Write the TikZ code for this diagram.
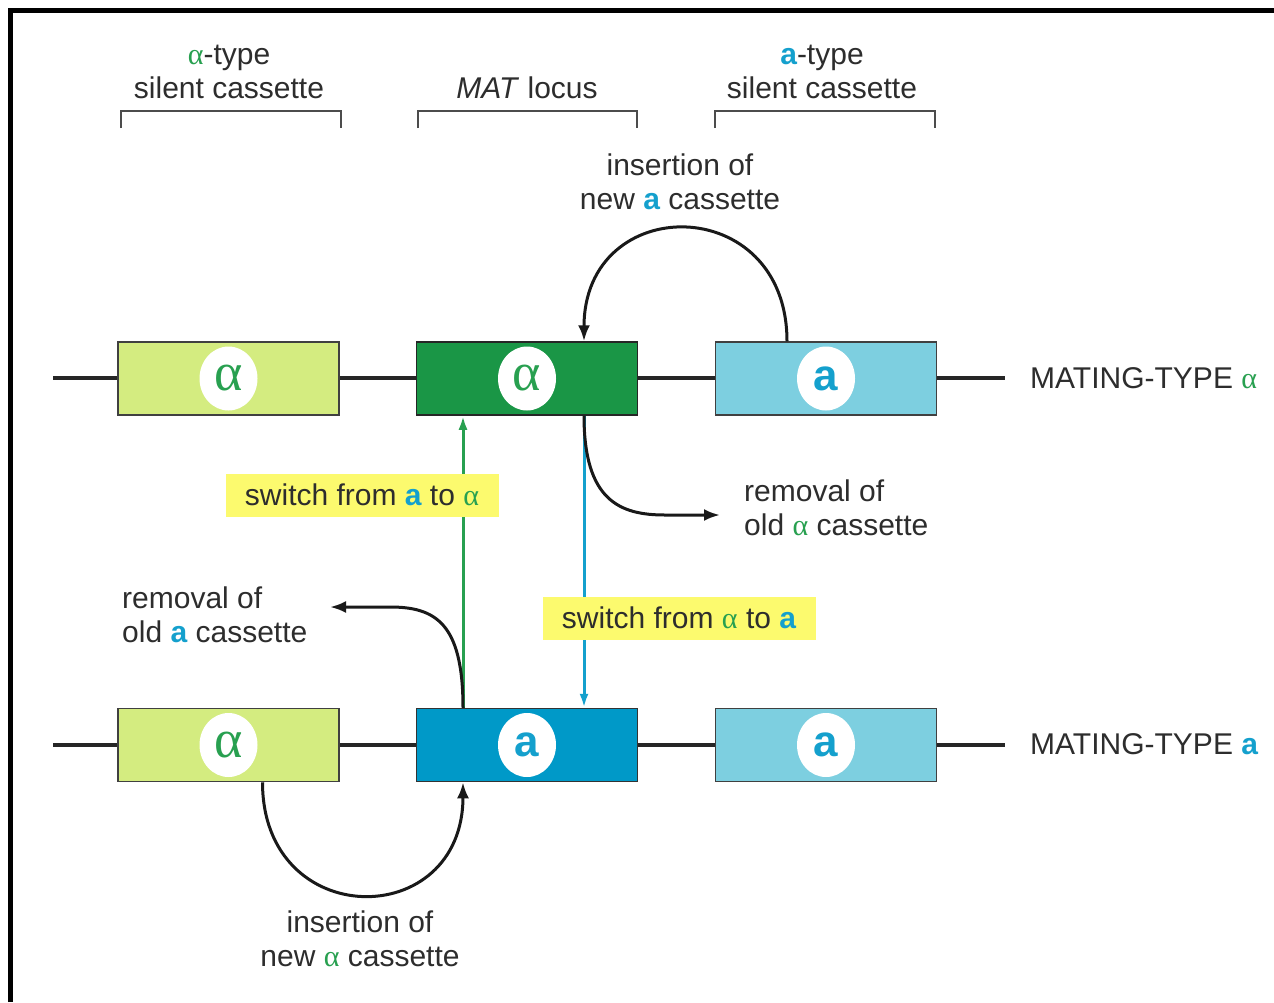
\documentclass[tikz,border=0pt]{standalone}
\usepackage{fontspec}
\setmainfont{Liberation Sans}
\newfontfamily\grk{Liberation Serif}
\usetikzlibrary{arrows.meta,shapes.geometric}
\definecolor{lgreen}{RGB}{212,236,128}
\definecolor{dgreen}{RGB}{26,150,70}
\definecolor{lblue}{RGB}{125,207,224}
\definecolor{dblue}{RGB}{0,153,200}
\definecolor{agreen}{RGB}{40,160,80}
\definecolor{ablue}{RGB}{20,160,205}
\definecolor{hl}{RGB}{252,250,110}
\definecolor{txt}{RGB}{45,45,45}
\newcommand{\gal}{{\grk\color{agreen}α}}
\newcommand{\ba}{{\bfseries\color{ablue}a}}
\begin{document}
\begin{tikzpicture}[x=1pt,y=-1pt,
  font=\fontsize{30}{34}\selectfont, text=txt,
  cass/.style={draw=black!75, line width=1.5pt, minimum width=221pt, minimum height=73pt, inner sep=0pt},
  blob/.style={ellipse, fill=white, minimum width=58pt, minimum height=64pt, inner sep=0pt},
  galpha/.style={font=\fontsize{54}{54}\grk, text=agreen},
  ba/.style={font=\fontsize{44}{44}\selectfont\bfseries, text=ablue},
  chrom/.style={line width=3.8pt, black!85},
  arr/.style={line width=3pt, black!90, -{Latex[length=16pt,width=12pt]}},
  colline/.style={line width=3pt, -{Latex[length=14pt,width=9pt]}},
  lab/.style={align=center, inner sep=0pt},
  hlbox/.style={fill=hl, inner xsep=10pt, inner ysep=0pt, minimum height=43pt, minimum width=273pt},
  brk/.style={line width=2pt, black!70}
]
\useasboundingbox (0,0) rectangle (1274,1002);
\fill[white] (0,0) rectangle (1274,1002);
\draw[line width=5pt] (10,1002) -- (10,10.5) -- (1274,10.5);

% top labels and brackets
\node[lab] (t1) at (229,72) {\gal-type\\silent cassette};
\node[lab] (t2) at (527,88) {\textit{MAT} locus};
\node[lab] (t3) at (822,72) {\ba-type\\silent cassette};
\draw[brk] (121,128) -- (121,111) -- (341,111) -- (341,128);
\draw[brk] (418,128) -- (418,111) -- (637,111) -- (637,128);
\draw[brk] (715,128) -- (715,111) -- (935,111) -- (935,128);

% chromosome lines
\coordinate (l1a) at (53,378);  \coordinate (l1b) at (1005,378);
\coordinate (l2a) at (53,745);  \coordinate (l2b) at (1005,745);
\draw[chrom] (l1a) -- (l1b);
\draw[chrom] (l2a) -- (l2b);

% row 1: mating type alpha
\node[cass, fill=lgreen] (A1) at (228.5,378.5) {};
\node[cass, fill=dgreen, draw=black!85] (M1) at (527,378.5) {};
\node[cass, fill=lblue] (A3) at (826,378.5) {};
\node[blob] (cA1) at (A1) {}; \node[galpha] at (cA1) {α};
\node[blob] (cM1) at (M1) {}; \node[galpha] at (cM1) {α};
\node[blob] (cA3) at (A3) {}; \node[ba] at (cA3) {a};
\node[anchor=west, inner sep=0pt] (mt1) at (1030,378) {MATING-TYPE \gal};

% row 2: mating type a
\node[cass, fill=lgreen] (B1) at (228.5,745) {};
\node[cass, fill=dblue, draw=black!80] (M2) at (527,745) {};
\node[cass, fill=lblue] (B3) at (826,745) {};
\node[blob] (cB1) at (B1) {}; \node[galpha] at (cB1) {α};
\node[blob] (cM2) at (M2) {}; \node[ba] at (cM2) {a};
\node[blob] (cB3) at (B3) {}; \node[ba] at (cB3) {a};
\node[anchor=west, inner sep=0pt] (mt2) at (1030,744) {MATING-TYPE \ba};

% switching lines
\draw[colline, ablue] ([xshift=57pt]M1.south) -- ([xshift=57pt]M2.north);
\draw[colline, agreen] ([xshift=-64pt]M2.north) -- ([xshift=-64pt]M1.south);
\node[hlbox] (sw1) at (362,495) {switch from \ba{} to \gal};
\node[hlbox] (sw2) at (679,618) {switch from \gal{} to \ba};

% insertion of new a cassette
\draw[arr] ([xshift=-39pt]A3.north) .. controls +(0,-150) and +(0,-150) .. ([xshift=57pt]M1.north);
\node[lab] (ins1) at (680,182) {insertion of\\new \ba{} cassette};

% removal of old alpha cassette
\coordinate (remA) at (720,515);
\draw[arr] ([xshift=57pt]M1.south) .. controls +(0,85) and +(-45,0) .. (665,515) -- (remA);
\node[lab, anchor=west, align=left] (rem1) at (744,508) {removal of\\old \gal{} cassette};

% removal of old a cassette
\coordinate (remB) at (330,607);
\draw[arr] ([xshift=-64pt]M2.north) .. controls +(0,-85) and +(45,0) .. (390,607) -- (remB);
\node[lab, anchor=west, align=left] (rem2) at (122,615) {removal of\\old \ba{} cassette};

% insertion of new alpha cassette
\draw[arr] ([xshift=34pt]B1.south) .. controls +(0,150) and +(0,150) .. ([xshift=-64pt]M2.south);
\node[lab] (ins2) at (360,939) {insertion of\\new \gal{} cassette};
\end{tikzpicture}
\end{document}
